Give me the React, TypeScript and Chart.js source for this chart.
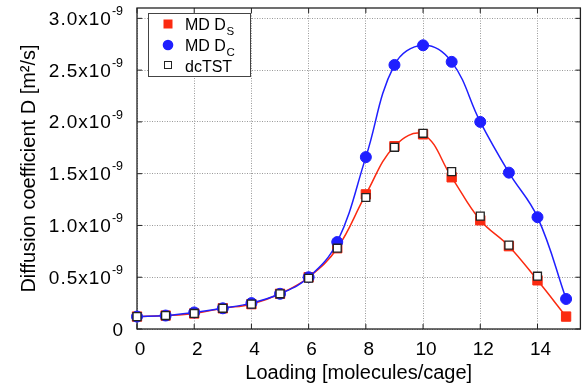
import React, { useEffect, useRef } from "react";
import { Chart, registerables } from "chart.js";

Chart.register(...registerables);

// Loading [molecules/cage]
const loading = [0, 1, 2, 3, 4, 5, 6, 7, 8, 9, 10, 11, 12, 13, 14, 15];
// Diffusion coefficients in units of 1e-9 m^2/s
const mdDs = [0.12, 0.13, 0.15, 0.2, 0.24, 0.34, 0.5, 0.78, 1.3, 1.765, 1.88, 1.465, 1.05, 0.8, 0.47, 0.12];
const mdDc = [0.12, 0.13, 0.16, 0.2, 0.25, 0.34, 0.5, 0.84, 1.66, 2.55, 2.74, 2.58, 2.0, 1.51, 1.08, 0.29];
const dcTstLoading = [0, 1, 2, 3, 4, 5, 6, 7, 8, 9, 10, 11, 12, 13, 14];
const dcTst = [0.12, 0.13, 0.15, 0.2, 0.24, 0.34, 0.49, 0.78, 1.27, 1.755, 1.89, 1.52, 1.09, 0.81, 0.51];

const xTitle = "Loading [molecules/cage]";
const yTitle = "Diffusion coefficient D [m\u00B2/s]";
const yTickExponent = "-9";
const legendLabels = [
  { main: "MD D", sub: "S" },
  { main: "MD D", sub: "C" },
  { main: "dcTST", sub: "" },
];

const FONT = "'Liberation Sans', Arial, Helvetica, sans-serif";
const RED = "#fb2a10";
const BLUE = "#1f1fff";

const framePlugin = {
  id: "frame",
  beforeDatasetsDraw(chart: any) {
    const { ctx, chartArea, scales } = chart;
    const { left, top, right, bottom } = chartArea;
    ctx.save();
    ctx.strokeStyle = "#222";
    ctx.lineWidth = 1.3;
    ctx.strokeRect(left, top, right - left, bottom - top);
    ctx.lineWidth = 1;
    const tl = 5;
    ctx.beginPath();
    scales.x.ticks.forEach((t: any) => {
      const px = scales.x.getPixelForValue(t.value);
      ctx.moveTo(px, bottom);
      ctx.lineTo(px, bottom - tl);
      ctx.moveTo(px, top);
      ctx.lineTo(px, top + tl);
    });
    scales.y.ticks.forEach((t: any) => {
      const py = scales.y.getPixelForValue(t.value);
      ctx.moveTo(left, py);
      ctx.lineTo(left + tl, py);
      ctx.moveTo(right, py);
      ctx.lineTo(right - tl, py);
    });
    ctx.stroke();
    ctx.restore();
  },
};

const yLabelPlugin = {
  id: "ylabels",
  afterDraw(chart: any) {
    const { ctx, scales } = chart;
    const ys = scales.y;
    const rightEdge = ys.right - 14;
    ctx.save();
    ctx.fillStyle = "#000";
    ys.ticks.forEach((t: any) => {
      const py = ys.getPixelForValue(t.value);
      if (t.value === 0) {
        ctx.font = `19px ${FONT}`;
        ctx.textAlign = "right";
        ctx.textBaseline = "alphabetic";
        ctx.fillText("0", rightEdge, py + 6.5);
        return;
      }
      ctx.font = `12.5px ${FONT}`;
      const supW = ctx.measureText(yTickExponent).width;
      ctx.textAlign = "left";
      ctx.textBaseline = "alphabetic";
      ctx.fillText(yTickExponent, rightEdge - supW, py - 3.3);
      ctx.font = `19px ${FONT}`;
      (ctx as any).letterSpacing = "1px";
      ctx.textAlign = "right";
      ctx.fillText(t.value.toFixed(1) + "x10", rightEdge - supW, py + 6.4);
      (ctx as any).letterSpacing = "0px";
    });
    ctx.restore();
  },
};

const legendPlugin = {
  id: "customLegend",
  afterDatasetsDraw(chart: any) {
    const { ctx } = chart;
    ctx.save();
    const bx = 148.5, by = 13.5, bw = 102, bh = 63;
    ctx.fillStyle = "#fff";
    ctx.fillRect(bx, by, bw, bh);
    ctx.strokeStyle = "#444";
    ctx.lineWidth = 1;
    ctx.strokeRect(bx, by, bw, bh);
    const mx = 168;
    // markers
    ctx.fillStyle = RED;
    ctx.fillRect(mx - 4.5, 24 - 4.5, 9, 9);
    ctx.fillStyle = BLUE;
    ctx.beginPath();
    ctx.arc(mx, 45, 5.3, 0, Math.PI * 2);
    ctx.fill();
    ctx.fillStyle = "#fff";
    ctx.strokeStyle = "#222";
    ctx.fillRect(mx - 3.5, 65 - 3.5, 7, 7);
    ctx.strokeRect(mx - 3.5, 65 - 3.5, 7, 7);
    // texts
    const baselines = [29.5, 50.5, 72];
    ctx.fillStyle = "#000";
    ctx.textAlign = "left";
    ctx.textBaseline = "alphabetic";
    legendLabels.forEach((l, i) => {
      ctx.font = `16px ${FONT}`;
      ctx.fillText(l.main, 185, baselines[i]);
      if (l.sub) {
        const w = ctx.measureText(l.main).width;
        ctx.font = `11.5px ${FONT}`;
        ctx.fillText(l.sub, 185 + w + 0.5, baselines[i] + 5);
      }
    });
    ctx.restore();
  },
};

export default function App() {
  const ref = useRef<HTMLCanvasElement | null>(null);
  useEffect(() => {
    if (!ref.current) return;
    const chart = new Chart(ref.current, {
      type: "line",
      data: {
        datasets: [
          {
            label: "MD Ds",
            data: loading.map((x, i) => ({ x, y: mdDs[i] })),
            borderColor: RED,
            backgroundColor: RED,
            borderWidth: 1.5,
            pointStyle: "rect",
            pointRadius: 6.6,
            pointBorderWidth: 1,
            pointBorderColor: RED,
            pointBackgroundColor: RED,
            tension: 0.4,
            order: 2,
            clip: false,
          },
          {
            label: "MD Dc",
            data: loading.map((x, i) => ({ x, y: mdDc[i] })),
            borderColor: BLUE,
            backgroundColor: BLUE,
            borderWidth: 1.5,
            pointStyle: "circle",
            pointRadius: 5.5,
            pointBorderWidth: 1,
            pointBorderColor: BLUE,
            pointBackgroundColor: BLUE,
            tension: 0.4,
            order: 1,
            clip: false,
          },
          {
            label: "dcTST",
            data: dcTstLoading.map((x, i) => ({ x, y: dcTst[i] })),
            showLine: false,
            pointStyle: "rect",
            pointRadius: 5.6,
            pointBorderWidth: 1.3,
            pointBorderColor: "#222",
            pointBackgroundColor: "#fff",
            order: 0,
            clip: false,
          },
        ],
      },
      options: {
        responsive: false,
        maintainAspectRatio: false,
        animation: false,
        devicePixelRatio: 1,
        layout: { padding: { left: 0, right: 1, top: 8, bottom: 0 } },
        plugins: { legend: { display: false }, tooltip: { enabled: false } },
        scales: {
          x: {
            type: "linear",
            min: 0,
            max: 15.5,
            afterFit: (s: any) => {
              s.height = 56;
            },
            ticks: {
              stepSize: 2,
              includeBounds: false,
              color: "#000",
              font: { family: FONT, size: 19 },
              padding: 9,
              labelOffset: 3,
            },
            grid: { color: "#999", lineWidth: 1, drawTicks: false },
            border: { display: false, dash: [1, 1.5] },
            title: {
              display: true,
              text: xTitle,
              color: "#000",
              font: { family: FONT, size: 20 },
              padding: { top: 0, bottom: 0 },
            },
          },
          y: {
            type: "linear",
            min: 0,
            max: 3.1,
            afterFit: (s: any) => {
              s.width = 137;
            },
            ticks: { stepSize: 0.5, includeBounds: false, display: false },
            grid: { color: "#999", lineWidth: 1, drawTicks: false },
            border: { display: false, dash: [1, 1.5] },
            title: {
              display: true,
              text: yTitle,
              color: "#000",
              font: { family: FONT, size: 20 },
              padding: { top: 17, bottom: 0 },
            },
          },
        },
      },
      plugins: [framePlugin, yLabelPlugin, legendPlugin],
    });
    return () => chart.destroy();
  }, []);
  return (
    <div style={{ position: "fixed", left: 0, top: 0, width: 588, height: 385, background: "#fff" }}>
      <canvas ref={ref} width={588} height={385} style={{ display: "block" }} />
    </div>
  );
}
